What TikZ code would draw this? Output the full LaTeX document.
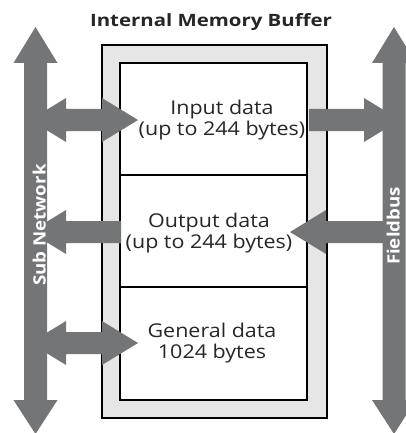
\documentclass[tikz,border=0pt]{standalone}
\usepackage{fontspec}
\setmainfont{Open Sans}
\newfontfamily\cellfont{Open Sans}[FakeStretch=1.13]
\newfontfamily\titlefont{Open Sans}[FakeStretch=1.2]
\newfontfamily\busfont{Open Sans}[FakeStretch=1.1]
\definecolor{busgray}{RGB}{116,117,119}
\definecolor{framegray}{RGB}{230,230,230}
\begin{document}
\begin{tikzpicture}[x=1pt,y=-1pt,
  blockarrow/.style={fill=busgray,draw=none},
  framebox/.style={draw=black,line width=2pt,fill=framegray},
  cellbox/.style={draw=black,line width=1.6pt,fill=white},
  celltext/.style={align=center,font=\cellfont\fontsize{19}{20.5}\selectfont,text=black!85},
  buslabel/.style={rotate=90,text=white,font=\busfont\bfseries\fontsize{17}{19}\selectfont},
  titletext/.style={font=\titlefont\bfseries\fontsize{17}{20}\selectfont,text=black!85}]
\useasboundingbox (0,0) rectangle (406,433);

% memory buffer: grey frame with the white cell column inside
\draw[framebox] (102,45) rectangle (327,418);
\draw[cellbox] (120,63) rectangle (307,400);
\coordinate (divA-l) at (120,175); \coordinate (divA-r) at (307,175);
\coordinate (divB-l) at (120,287); \coordinate (divB-r) at (307,287);
\draw[black,line width=1.6pt] (divA-l) -- (divA-r);
\draw[black,line width=1.6pt] (divB-l) -- (divB-r);

% the two busses
\fill[blockarrow] (35.5,27) -- (57.5,63) -- (47,63) -- (47,400) -- (57.5,400)
  -- (35.5,434) -- (13.5,400) -- (24,400) -- (24,63) -- (13.5,63) -- cycle;
\fill[blockarrow] (394,27) -- (416,63) -- (405.5,63) -- (405.5,400) -- (416,400)
  -- (394,434) -- (372,400) -- (382.5,400) -- (382.5,63) -- (372,63) -- cycle;

% input data: sub network <-> buffer, buffer -> fieldbus
\fill[blockarrow] (30,120) -- (66,98) -- (66,109) -- (102,109) -- (102,98) -- (138,120)
  -- (102,142) -- (102,131) -- (66,131) -- (66,142) -- cycle;
\fill[blockarrow] (309,109) -- (364,109) -- (364,98) -- (400,120) -- (364,142)
  -- (364,131) -- (309,131) -- cycle;

% output data: buffer -> sub network, fieldbus -> buffer
\fill[blockarrow] (121,221) -- (66,221) -- (66,210) -- (30,232) -- (66,254)
  -- (66,243) -- (121,243) -- cycle;
\fill[blockarrow] (400,221) -- (326,221) -- (326,210) -- (290,232) -- (326,254)
  -- (326,243) -- (400,243) -- cycle;

% general data: sub network <-> buffer
\fill[blockarrow] (30,343) -- (66,321) -- (66,332) -- (102,332) -- (102,321) -- (138,343)
  -- (102,365) -- (102,354) -- (66,354) -- (66,365) -- cycle;

% texts
\node[titletext,anchor=base] (title) at (211,27) {Internal Memory Buffer};
\node[celltext] (input) at (222,120) {Input data\\(up to 244 bytes)};
\node[celltext] (output) at (209,233) {Output data\\(up to 244 bytes)};
\node[celltext] (general) at (212,343) {General data\\1024 bytes};
\node[buslabel,anchor=base] (subnet) at (45.5,225) {Sub Network};
\node[buslabel,anchor=base] (fieldbus) at (399.5,226) {Fieldbus};
\end{tikzpicture}
\end{document}
